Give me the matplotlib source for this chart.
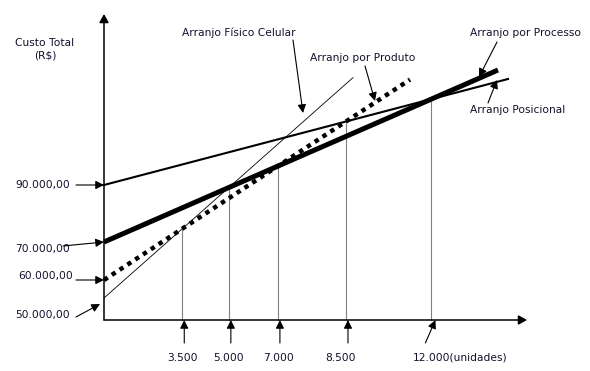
import numpy as np
import matplotlib
matplotlib.use("Agg")
import matplotlib.pyplot as plt

# schematic units (chart is not to scale): intercept = fixed cost height,
# slope = variable cost per unit, end = where each line stops
layouts = ["Posicional", "Processo", "Produto", "Celular"]
intercepts = [135, 78, 40, 22]
slopes = [0.2624, 0.4365, 0.655, 0.885]
ends = [404, 394, 306, 249]

fixed_labels = ["90.000,00", "70.000,00", "60.000,00", "50.000,00"]
# break-even pairs (index into layouts) and their labels
pairs = [(2, 3), (1, 3), (1, 2), (0, 2), (0, 1)]
qty_labels = ["3.500", "5.000", "7.000", "8.500", "12.000(unidades)"]


def cost(i, x):
    return intercepts[i] + slopes[i] * x


def arrow(ax, start, end, lw=0.8, hw=0.25):
    ax.annotate("", xy=end, xytext=start,
                arrowprops=dict(arrowstyle=f"-|>,head_length=0.5,head_width={hw}",
                                mutation_scale=10, lw=lw,
                                color="black", shrinkA=0, shrinkB=0))


fig = plt.figure(figsize=(5.9, 3.71), dpi=100)
ax = fig.add_axes([0, 0, 1, 1])
ax.set_xlim(-104, 486)
ax.set_ylim(-51, 320)
ax.axis("off")

font = dict(family="DejaVu Sans", size=7.7, color="#10102a")

# axes with arrow heads
arrow(ax, (0, 0), (0, 306), lw=1.1, hw=0.28)
arrow(ax, (0, 0), (423, 0), lw=1.1, hw=0.28)

# break-even verticals
bx = []
for (a, b) in pairs:
    x = (intercepts[b] - intercepts[a]) / (slopes[a] - slopes[b])
    bx.append(x)
    ax.plot([x, x], [0, cost(a, x)], color="#808080", lw=0.8)

# cost lines
styles = [dict(lw=1.5), dict(lw=3.6, solid_capstyle="butt"),
          dict(lw=3.2, linestyle=(0, (1, 1.1)), dash_capstyle="butt"),
          dict(lw=0.6)]
for i in range(len(layouts)):
    xs = np.array([0, ends[i]])
    ax.plot(xs, cost(i, xs), color="black", **styles[i])

# y labels
ax.text(-59, 277, "Custo Total", ha="center", va="center", **font)
ax.text(-59, 264, "(R$)", ha="center", va="center", **font)
lab_pos = [(-89, 135), (-89, 71), (-86, 44), (-89, 5)]
arr_start = [(-28, 135), (-41, 74), (-28, 40), (-28, 3)]
for i, t in enumerate(fixed_labels):
    ax.text(lab_pos[i][0], lab_pos[i][1], t, ha="left", va="center", **font)
    tgt = (0, intercepts[i]) if i < 3 else (-4, intercepts[i] - 6)
    arrow(ax, arr_start[i], tgt)

# x labels
xlab_x = [79, 125, 174, 237, 309]
for i, t in enumerate(qty_labels):
    ha = "left" if i == 4 else "center"
    ax.text(xlab_x[i], -38, t, ha=ha, va="center", **font)
    if i == 4:
        arrow(ax, (bx[i] - 6, -23), (bx[i] + 4, 0))
    else:
        arrow(ax, (bx[i] + 2, -23), (bx[i] + 2, 0))

# layout labels
ax.text(78, 287, "Arranjo Físico Celular", ha="left", va="center", **font)
arrow(ax, (189, 280), (199, 207))
ax.text(206, 262, "Arranjo por Produto", ha="left", va="center", **font)
arrow(ax, (261, 254), (271, 219))
ax.text(366, 287, "Arranjo por Processo", ha="left", va="center", **font)
arrow(ax, (393, 278), (375, 243))
ax.text(366, 210, "Arranjo Posicional", ha="left", va="center", **font)
arrow(ax, (384, 217), (393, 240))

fig.savefig("out.png", dpi=100, facecolor="white")
